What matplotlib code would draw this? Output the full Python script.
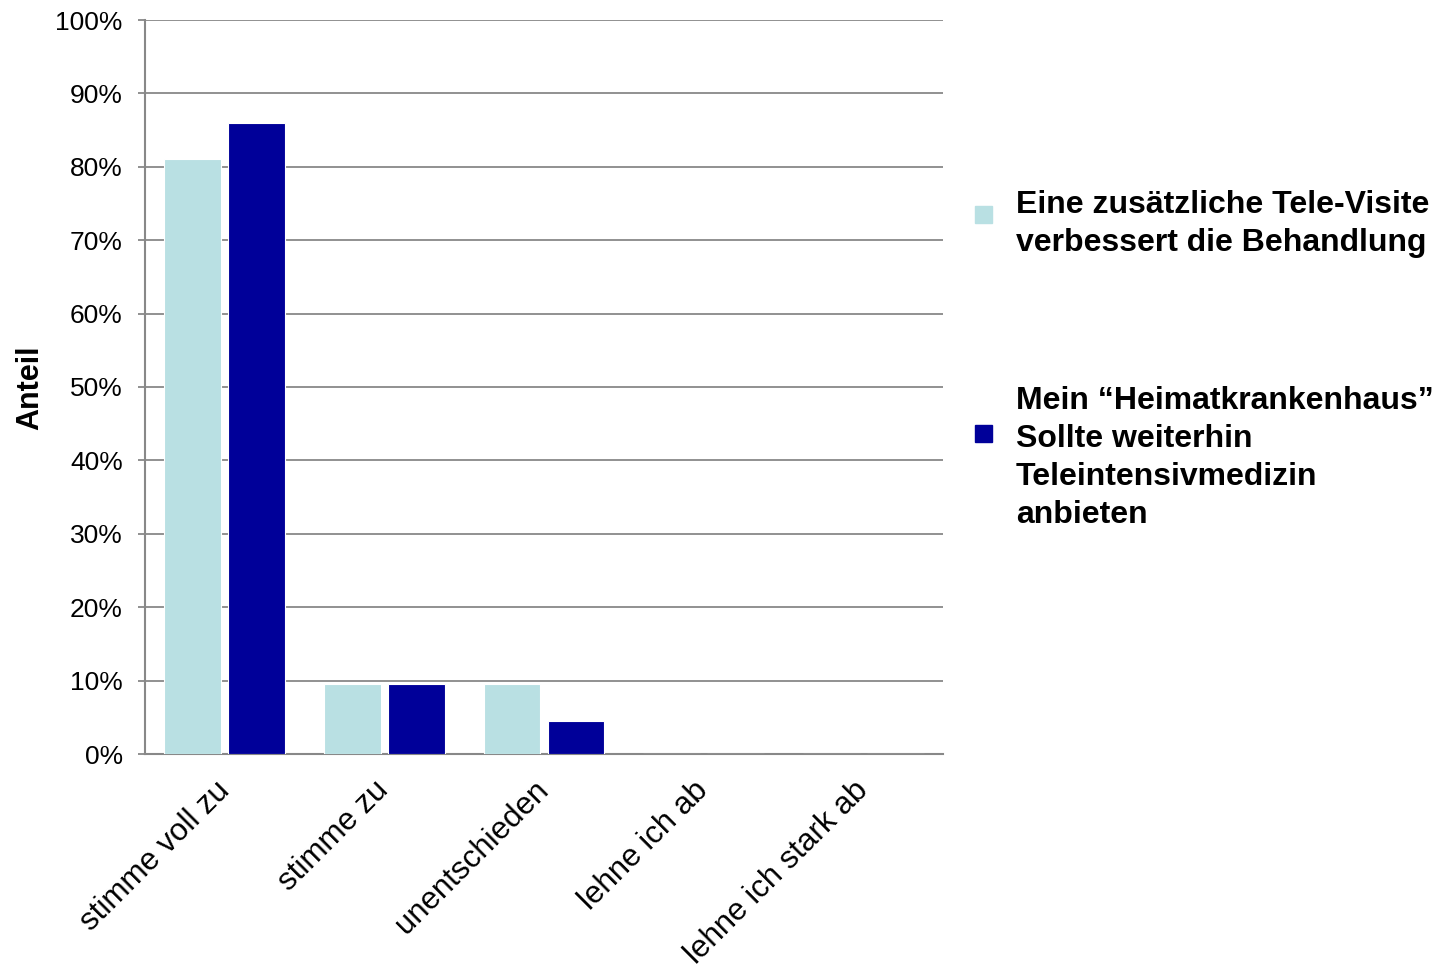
import numpy as np
import matplotlib
matplotlib.use('Agg')
import matplotlib.pyplot as plt
from matplotlib.patches import Rectangle

plt.rcParams['font.family'] = ['Liberation Sans', 'DejaVu Sans']

# Daten
kategorien = ['stimme voll zu', 'stimme zu', 'unentschieden', 'lehne ich ab', 'lehne ich stark ab']
tele_visite = [81, 9.5, 9.5, 0, 0]
heimat_kh = [86, 9.5, 4.5, 0, 0]
serien_namen = ['Eine zusätzliche Tele-Visite\nverbessert die Behandlung',
                'Mein \u201cHeimatkrankenhaus\u201d\nSollte weiterhin\nTeleintensivmedizin\nanbieten']
farben = ['#B9E0E3', '#000099']
y_ticks = np.arange(0, 101, 10)

W, H = 1438, 971
fig = plt.figure(figsize=(W / 100, H / 100), dpi=100)
ax = fig.add_axes([145 / W, 1 - 754 / H, (943 - 145) / W, (754 - 20) / H])

x = np.arange(len(kategorien))
breite = 0.357
abstand = 0.044
ax.bar(x - (breite + abstand) / 2, tele_visite, width=breite, color=farben[0],
       edgecolor='white', linewidth=0.8, zorder=3)
ax.bar(x + (breite + abstand) / 2, heimat_kh, width=breite, color=farben[1],
       edgecolor='white', linewidth=0.8, zorder=3)

ax.set_xlim(-0.5, len(kategorien) - 0.5)
ax.set_ylim(0, 100)
ax.set_yticks(y_ticks)
ax.set_yticklabels([f'{v}%' for v in y_ticks], fontsize=19)
ax.yaxis.grid(True, color='#888888', linewidth=1.3, zorder=0)
ax.set_axisbelow(True)

ax.set_xticks(x)
ax.set_xticklabels(kategorien, fontsize=22.5, rotation=45, ha='right', va='center',
                   rotation_mode='anchor')
ax.tick_params(axis='x', length=0, pad=23)
ax.tick_params(axis='y', length=5, width=1.3, color='#888888', pad=11)

for s in ['top', 'right']:
    ax.spines[s].set_visible(False)
for s in ['left', 'bottom']:
    ax.spines[s].set_color('#888888')
    ax.spines[s].set_linewidth(1.5)

fig.text(30 / W, 1 - 388 / H, 'Anteil', rotation=90, fontsize=22, fontweight='bold',
         ha='center', va='center')

# Legende
marker_y = [215, 434]
text_y = [190, 386]
for farbe, name, my, ty in zip(farben, serien_namen, marker_y, text_y):
    fig.patches.append(Rectangle((975 / W, 1 - (my + 8.5) / H), 17 / W, 17 / H,
                                 transform=fig.transFigure, color=farbe))
    fig.text(1016 / W, 1 - ty / H, name, fontsize=23, fontweight='bold',
             ha='left', va='top', linespacing=1.35)

fig.savefig('out.png', dpi=100)
